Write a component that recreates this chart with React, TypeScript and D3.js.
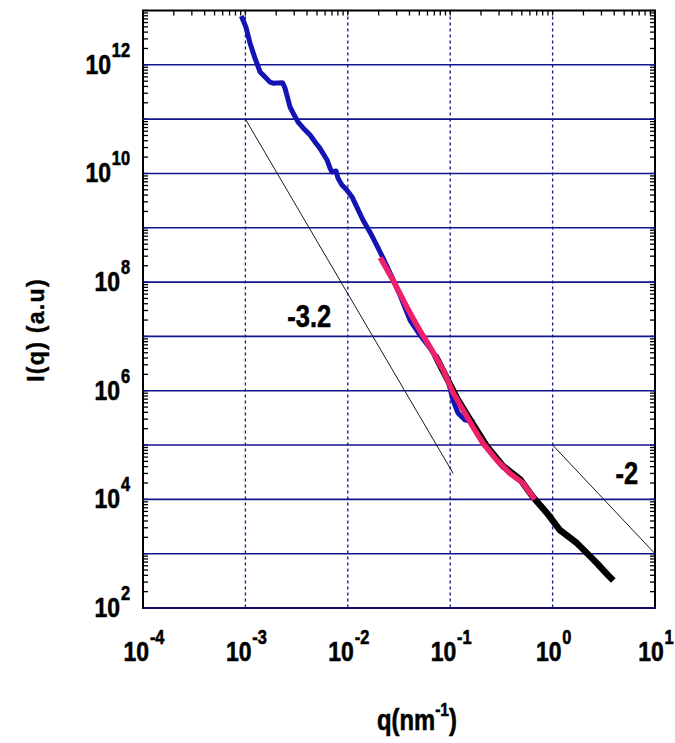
import { useEffect, useRef } from "react";
import * as d3 from "d3";

// measured SAXS curves, q in nm^-1, I in a.u.
const blueQ = [0.000933, 0.00101, 0.00111, 0.00124, 0.00139, 0.00149, 0.00174, 0.00186, 0.00231, 0.00244, 0.00273, 0.00292, 0.00327, 0.00366, 0.00428, 0.00489, 0.00535, 0.00627, 0.0067, 0.00701, 0.00767, 0.00802, 0.00877, 0.00982, 0.011, 0.01406, 0.01648, 0.01914, 0.0221, 0.0269, 0.0324, 0.0405, 0.0507, 0.0635, 0.0795, 0.0952, 0.0996, 0.1065, 0.119, 0.1395, 0.162];
const blueI = [7.2e12, 5.0e12, 2.5e12, 1.33e12, 7.4e11, 6.5e11, 4.8e11, 4.6e11, 4.7e11, 3.7e11, 1.67e11, 1.3e11, 8.8e10, 6.9e10, 5.1e10, 3.6e10, 2.9e10, 1.77e10, 1.26e10, 1.06e10, 1.11e10, 8.2e9, 6.1e9, 4.9e9, 3.7e9, 1.39e9, 8.3e8, 4.8e8, 2.77e8, 1.25e8, 5.7e7, 2.0e7, 1.06e7, 6.1e6, 3.2e6, 1.57e6, 1.12e6, 6.7e5, 3.9e5, 2.9e5, 2.7e5];

const pinkQ = [0.0214, 0.0276, 0.0376, 0.0507, 0.0635, 0.0851, 0.1065, 0.133, 0.167, 0.209, 0.284, 0.384, 0.514, 0.644];
const pinkI = [2.54e8, 1.09e8, 3.5e7, 1.27e7, 6.4e6, 2.44e6, 9.2e5, 4.5e5, 2.14e5, 1.08e5, 5.3e4, 3.0e4, 1.99e4, 1.1e4];

const blackQ = [0.0738, 0.116, 0.156, 0.227, 0.328, 0.481, 0.644, 0.881, 1.18, 1.73, 2.17, 2.71, 3.48, 3.72];
const blackI = [3.95e6, 7.4e5, 2.95e5, 9.6e4, 4.1e4, 2.35e4, 1.1e4, 5.6e3, 2.71e3, 1.56e3, 1.02e3, 668, 402, 354];

// power-law guide lines (endpoints) and their slope labels
const fitLines = [
  { label: "-3.2", q: [0.001, 0.107], I: [1e11, 3.0e4], labelQ: 0.0042, labelI: 1.5e7 },
  { label: "-2", q: [1, 10], I: [1e5, 1e3], labelQ: 5.3, labelI: 1.95e4 },
];

const xExponents = [-4, -3, -2, -1, 0, 1];
const yExponents = [2, 4, 6, 8, 10, 12];

const W = 675;
const H = 743;
const font = "'Liberation Sans', Arial, sans-serif";
const SQUEEZE = 0.82; // Arial Narrow look

export default function App() {
  const svgRef = useRef<SVGSVGElement>(null);

  useEffect(() => {
    document.body.style.margin = "0";
    const svg = d3.select(svgRef.current);
    svg.selectAll("*").remove();

    const m = { left: 143, right: 655, top: 10.5, bottom: 608 };
    const x = d3.scaleLog().domain([1e-4, 10]).range([m.left, m.right]);
    const y = d3.scaleLog().domain([1e2, 1e13]).range([m.bottom, m.top]);
    const navy = "#14148c";

    // narrow heavy bold text, placed at (tx, ty)
    const label = (tx: number, ty: number, anchor: string, size: number) =>
      svg
        .append("g")
        .attr("transform", `translate(${tx},${ty}) scale(${SQUEEZE},1)`)
        .append("text")
        .attr("text-anchor", anchor)
        .attr("font-family", font)
        .attr("font-weight", "bold")
        .attr("stroke", "#000")
        .attr("stroke-width", 0.6)
        .attr("font-size", size);

    svg.append("rect").attr("width", W).attr("height", H).attr("fill", "#fff");

    // vertical dashed grid
    svg
      .append("g")
      .selectAll("line")
      .data([1e-3, 1e-2, 1e-1, 1])
      .join("line")
      .attr("x1", (d) => x(d))
      .attr("x2", (d) => x(d))
      .attr("y1", m.top)
      .attr("y2", m.bottom)
      .attr("stroke", navy)
      .attr("stroke-width", 1.3)
      .attr("stroke-dasharray", "3,3");

    // minor ticks, inside the frame
    const yt = y.ticks(40);
    const xt = x.ticks(40);
    const ticks = svg.append("g").attr("stroke", "#000").attr("stroke-width", 1.3);
    ticks
      .selectAll(".tl")
      .data(yt)
      .join("line")
      .attr("class", "tl")
      .attr("x1", m.left)
      .attr("x2", m.left + 5)
      .attr("y1", (d) => y(d))
      .attr("y2", (d) => y(d));
    ticks
      .selectAll(".tr")
      .data(yt)
      .join("line")
      .attr("class", "tr")
      .attr("x1", m.right)
      .attr("x2", m.right - 5)
      .attr("y1", (d) => y(d))
      .attr("y2", (d) => y(d));
    ticks
      .selectAll(".tt")
      .data(xt)
      .join("line")
      .attr("class", "tt")
      .attr("x1", (d) => x(d))
      .attr("x2", (d) => x(d))
      .attr("y1", m.top)
      .attr("y2", m.top + 5);

    // frame
    svg
      .append("rect")
      .attr("x", m.left)
      .attr("y", m.top)
      .attr("width", m.right - m.left)
      .attr("height", m.bottom - m.top)
      .attr("fill", "none")
      .attr("stroke", "#000")
      .attr("stroke-width", 2);

    // horizontal grid
    svg
      .append("g")
      .selectAll("line")
      .data(d3.range(2, 13).map((e) => Math.pow(10, e)))
      .join("line")
      .attr("x1", m.left)
      .attr("x2", m.right)
      .attr("y1", (d) => y(d))
      .attr("y2", (d) => y(d))
      .attr("stroke", navy)
      .attr("stroke-width", 1.6);

    const line = d3
      .line<[number, number]>()
      .x((d) => x(d[0]))
      .y((d) => y(d[1]));

    // guide lines
    fitLines.forEach((f) => {
      svg
        .append("path")
        .attr("d", line(f.q.map((q, i) => [q, f.I[i]])))
        .attr("fill", "none")
        .attr("stroke", "#000")
        .attr("stroke-width", 0.9);
      label(x(f.labelQ), y(f.labelI), "middle", 31).text(f.label);
    });

    const curves = [
      { q: blueQ, I: blueI, color: "#1414b4", w: 5 },
      { q: blackQ, I: blackI, color: "#000", w: 6.5 },
      { q: pinkQ, I: pinkI, color: "#ee1f6b", w: 5.5 },
    ];
    curves.forEach((c) => {
      svg
        .append("path")
        .attr("d", line(c.q.map((q, i) => [q, c.I[i]])))
        .attr("fill", "none")
        .attr("stroke", c.color)
        .attr("stroke-width", c.w)
        .attr("stroke-linejoin", "round")
        .attr("stroke-linecap", "square");
    });

    // y tick labels
    yExponents.forEach((e) => {
      const t = label(130, y(Math.pow(10, e)) + 9, "end", 28);
      t.append("tspan").text("10");
      t.append("tspan").attr("dy", -17).attr("dx", 1).attr("font-size", 20).text(e);
    });

    // x tick labels
    xExponents.forEach((e) => {
      const t = label(x(Math.pow(10, e)) + 1, 661, "middle", 28);
      t.append("tspan").text("10");
      t.append("tspan").attr("dy", -17).attr("dx", 1).attr("font-size", 20).text(e);
    });

    // axis titles
    const xTitle = label(417, 730, "middle", 29);
    xTitle.append("tspan").text("q(nm");
    xTitle.append("tspan").attr("dy", -14).attr("font-size", 19).text("-1");
    xTitle.append("tspan").attr("dy", 14).text(")");

    svg
      .append("text")
      .attr("transform", "translate(44,330) rotate(-90)")
      .attr("text-anchor", "middle")
      .attr("font-family", font)
      .attr("font-weight", "bold")
      .attr("stroke", "#000")
      .attr("stroke-width", 0.4)
      .attr("font-size", 23)
      .attr("letter-spacing", 1.3)
      .text("I(q) (a.u)");
  }, []);

  return <svg ref={svgRef} width={W} height={H} viewBox={`0 0 ${W} ${H}`} style={{ display: "block" }} />;
}
